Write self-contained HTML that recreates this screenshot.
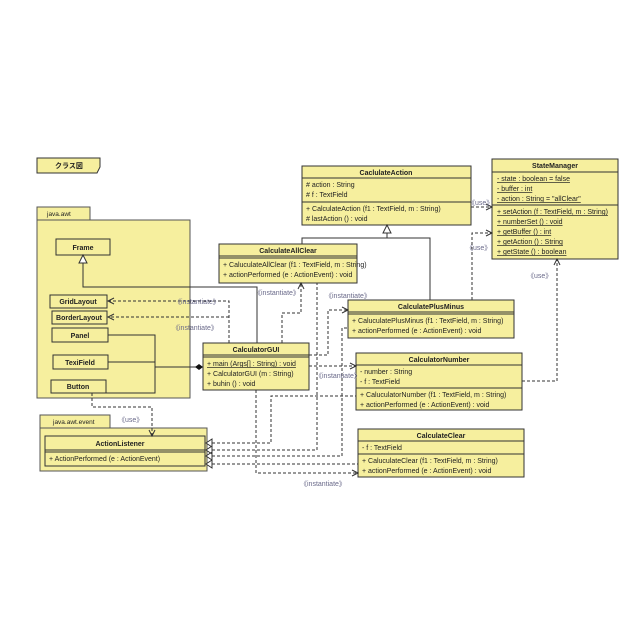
<!DOCTYPE html>
<html><head><meta charset="utf-8"><style>
html,body{margin:0;padding:0;background:#fff}
svg{display:block}
text{font-family:"Liberation Sans","Noto Sans CJK JP",sans-serif;font-size:7px;fill:#222}
.b{font-weight:bold;text-anchor:middle}
.box{fill:#f6ef9e;stroke:#333;stroke-width:1}
.pkg{fill:#f6ef9e;stroke:#555;stroke-width:1}
.ln{stroke:#333;stroke-width:1;fill:none}
.d{stroke:#333;stroke-width:1;fill:none;stroke-dasharray:3,2}
.st{fill:#6a6a8a;font-size:7px}
.u{text-decoration:underline}
</style></head><body>
<svg width="640" height="640" viewBox="0 0 640 640" xmlns="http://www.w3.org/2000/svg">
<!-- title tab -->
<path d="M37 158 H100 V167 L97 173 H37 Z" class="box"/>
<text x="55" y="168" style="font-weight:bold;font-size:7px">クラス図</text>

<!-- java.awt package -->
<rect x="37" y="207" width="53" height="13" class="pkg"/>
<rect x="37" y="220" width="153" height="178" class="pkg"/>
<text x="47" y="216" style="font-size:6.5px">java.awt</text>
<rect x="56" y="239" width="54" height="16" class="box"/><text x="83" y="250" class="b">Frame</text>
<rect x="50" y="295" width="57" height="13" class="box"/><text x="78" y="304" class="b">GridLayout</text>
<rect x="52" y="311" width="55" height="13" class="box"/><text x="79" y="320" class="b">BorderLayout</text>
<rect x="52" y="328" width="56" height="14" class="box"/><text x="80" y="338" class="b">Panel</text>
<rect x="53" y="355" width="55" height="14" class="box"/><text x="80" y="365" class="b">TexiField</text>
<rect x="51" y="380" width="55" height="13" class="box"/><text x="78" y="389" class="b">Button</text>

<!-- java.awt.event -->
<rect x="40" y="415" width="70" height="13" class="pkg"/>
<rect x="40" y="428" width="167" height="43" class="pkg"/>
<text x="53" y="424" style="font-size:6.5px">java.awt.event</text>
<rect x="45" y="436" width="160" height="30" class="box"/>
<line x1="45" y1="450" x2="205" y2="450" class="ln"/>
<line x1="45" y1="452" x2="205" y2="452" class="ln"/>
<text x="120" y="446" class="b">ActionListener</text>
<text x="49" y="461">+ ActionPerformed (e : ActionEvent)</text>

<!-- CalculateAction -->
<rect x="302" y="166" width="169" height="59" class="box"/>
<line x1="302" y1="178" x2="471" y2="178" class="ln"/>
<line x1="302" y1="202" x2="471" y2="202" class="ln"/>
<text x="386" y="175" class="b">CaclulateAction</text>
<text x="306" y="187"># action : String</text>
<text x="306" y="197"># f : TextField</text>
<text x="306" y="211">+ CalculateAction (f1 : TextField, m : String)</text>
<text x="306" y="221"># lastAction () : void</text>

<!-- StateManager -->
<rect x="492" y="159" width="126" height="100" class="box"/>
<line x1="492" y1="172" x2="618" y2="172" class="ln"/>
<line x1="492" y1="205" x2="618" y2="205" class="ln"/>
<text x="555" y="168" class="b">StateManager</text>
<text x="497" y="181" class="u">- state : boolean = false</text>
<text x="497" y="191" class="u">- buffer : int</text>
<text x="497" y="201" class="u">- action : String = "allClear"</text>
<text x="497" y="214" class="u">+ setAction (f : TextField, m : String)</text>
<text x="497" y="224" class="u">+ numberSet () : void</text>
<text x="497" y="234" class="u">+ getBuffer () : int</text>
<text x="497" y="244" class="u">+ getAction () : String</text>
<text x="497" y="254" class="u">+ getState () : boolean</text>

<!-- CalculateAllClear -->
<rect x="219" y="244" width="138" height="39" class="box"/>
<line x1="219" y1="256" x2="357" y2="256" class="ln"/>
<line x1="219" y1="258" x2="357" y2="258" class="ln"/>
<text x="288" y="253" class="b">CalculateAllClear</text>
<text x="223" y="267">+ CaluculateAllClear (f1 : TextField, m : String)</text>
<text x="223" y="277">+ actionPerformed (e : ActionEvent) : void</text>

<!-- CalculatePlusMinus -->
<rect x="348" y="300" width="166" height="38" class="box"/>
<line x1="348" y1="312" x2="514" y2="312" class="ln"/>
<line x1="348" y1="314" x2="514" y2="314" class="ln"/>
<text x="431" y="309" class="b">CalculatePlusMinus</text>
<text x="352" y="323">+ CaluculatePlusMinus (f1 : TextField, m : String)</text>
<text x="352" y="333">+ actionPerformed (e : ActionEvent) : void</text>

<!-- CalculatorNumber -->
<rect x="356" y="353" width="166" height="57" class="box"/>
<line x1="356" y1="365" x2="522" y2="365" class="ln"/>
<line x1="356" y1="388" x2="522" y2="388" class="ln"/>
<text x="439" y="362" class="b">CalculatorNumber</text>
<text x="360" y="374">- number : String</text>
<text x="360" y="384">- f : TextField</text>
<text x="360" y="397">+ CaluculatorNumber (f1 : TextField, m : String)</text>
<text x="360" y="407">+ actionPerformed (e : ActionEvent) : void</text>

<!-- CalculateClear -->
<rect x="358" y="429" width="166" height="48" class="box"/>
<line x1="358" y1="441" x2="524" y2="441" class="ln"/>
<line x1="358" y1="454" x2="524" y2="454" class="ln"/>
<text x="441" y="438" class="b">CalculateClear</text>
<text x="362" y="450">- f : TextField</text>
<text x="362" y="463">+ CaluculateClear (f1 : TextField, m : String)</text>
<text x="362" y="473">+ actionPerformed (e : ActionEvent) : void</text>

<!-- CalculatorGUI -->
<rect x="203" y="343" width="106" height="47" class="box"/>
<line x1="203" y1="355" x2="309" y2="355" class="ln"/>
<line x1="203" y1="357" x2="309" y2="357" class="ln"/>
<text x="256" y="352" class="b">CalculatorGUI</text>
<text x="207" y="366" class="u">+ main (Args[] : String) : void</text>
<text x="207" y="376">+ CalculatorGUI (m : String)</text>
<text x="207" y="386">+ buhin () : void</text>

<!-- inheritance -->
<polyline points="83,258 83,287 257,287 257,343" class="ln"/>
<path d="M83 255 L79 263 H87 Z" fill="#fff" stroke="#333"/>
<polyline points="302,244 302,238 430,238 430,300" class="ln"/>
<line x1="387" y1="238" x2="387" y2="232" class="ln"/>
<path d="M387 225 L383 233 H391 Z" fill="#fff" stroke="#333"/>

<!-- composition -->
<polyline points="108,335 155,335 155,393 106,393" class="ln"/>
<line x1="108" y1="362" x2="155" y2="362" class="ln"/>
<line x1="155" y1="367" x2="196" y2="367" class="ln"/>
<path d="M203 367 L199 364 L195 367 L199 370 Z" fill="#111"/>

<!-- dashed deps -->
<polyline points="229,343 229,301 108,301" class="d"/>
<polyline points="229,317 108,317" class="d"/>
<path d="M114 298 L108 301 L114 304 M114 314 L108 317 L114 320" class="ln"/>
<polyline points="282,343 282,313 301,313 301,283" class="d"/>
<path d="M298 289 L301 283 L304 289" class="ln"/>
<polyline points="309,355 328,355 328,310 348,310" class="d"/>
<path d="M342 307 L348 310 L342 313" class="ln"/>
<line x1="309" y1="366" x2="356" y2="366" class="d"/>
<path d="M350 363 L356 366 L350 369" class="ln"/>
<polyline points="256,390 256,473 358,473" class="d"/>
<path d="M352 470 L358 473 L352 476" class="ln"/>

<polyline points="207,443 271,443 271,396 356,396" class="d"/>
<polyline points="207,450 317,450 317,283" class="d"/>
<polyline points="207,456 342,456 342,328 348,328" class="d"/>
<polyline points="207,464 358,464" class="d"/>
<path d="M212 439 L206 443 L212 447 Z M212 446 L206 450 L212 454 Z M212 452 L206 456 L212 460 Z M212 460 L206 464 L212 468 Z" fill="#fff" stroke="#333"/>

<polyline points="92,393 92,407 152,407 152,436" class="d"/>
<path d="M149 430 L152 436 L155 430" class="ln"/>

<polyline points="471,207 492,207" class="d"/>
<path d="M486 204 L492 207 L486 210" class="ln"/>
<polyline points="472,300 472,233 492,233" class="d"/>
<path d="M486 230 L492 233 L486 236" class="ln"/>
<polyline points="522,381 557,381 557,259" class="d"/>
<path d="M554 265 L557 259 L560 265" class="ln"/>

<!-- stereotype labels -->
<text x="174" y="304" class="st">《instantiate》</text>
<text x="172" y="330" class="st">《instantiate》</text>
<text x="254" y="295" class="st">《instantiate》</text>
<text x="325" y="298" class="st">《instantiate》</text>
<text x="315" y="378" class="st">《instantiate》</text>
<text x="300" y="486" class="st">《instantiate》</text>
<text x="118" y="422" class="st">《use》</text>
<text x="468" y="205" class="st">《use》</text>
<text x="466" y="250" class="st">《use》</text>
<text x="527" y="278" class="st">《use》</text>
</svg>
</body></html>
